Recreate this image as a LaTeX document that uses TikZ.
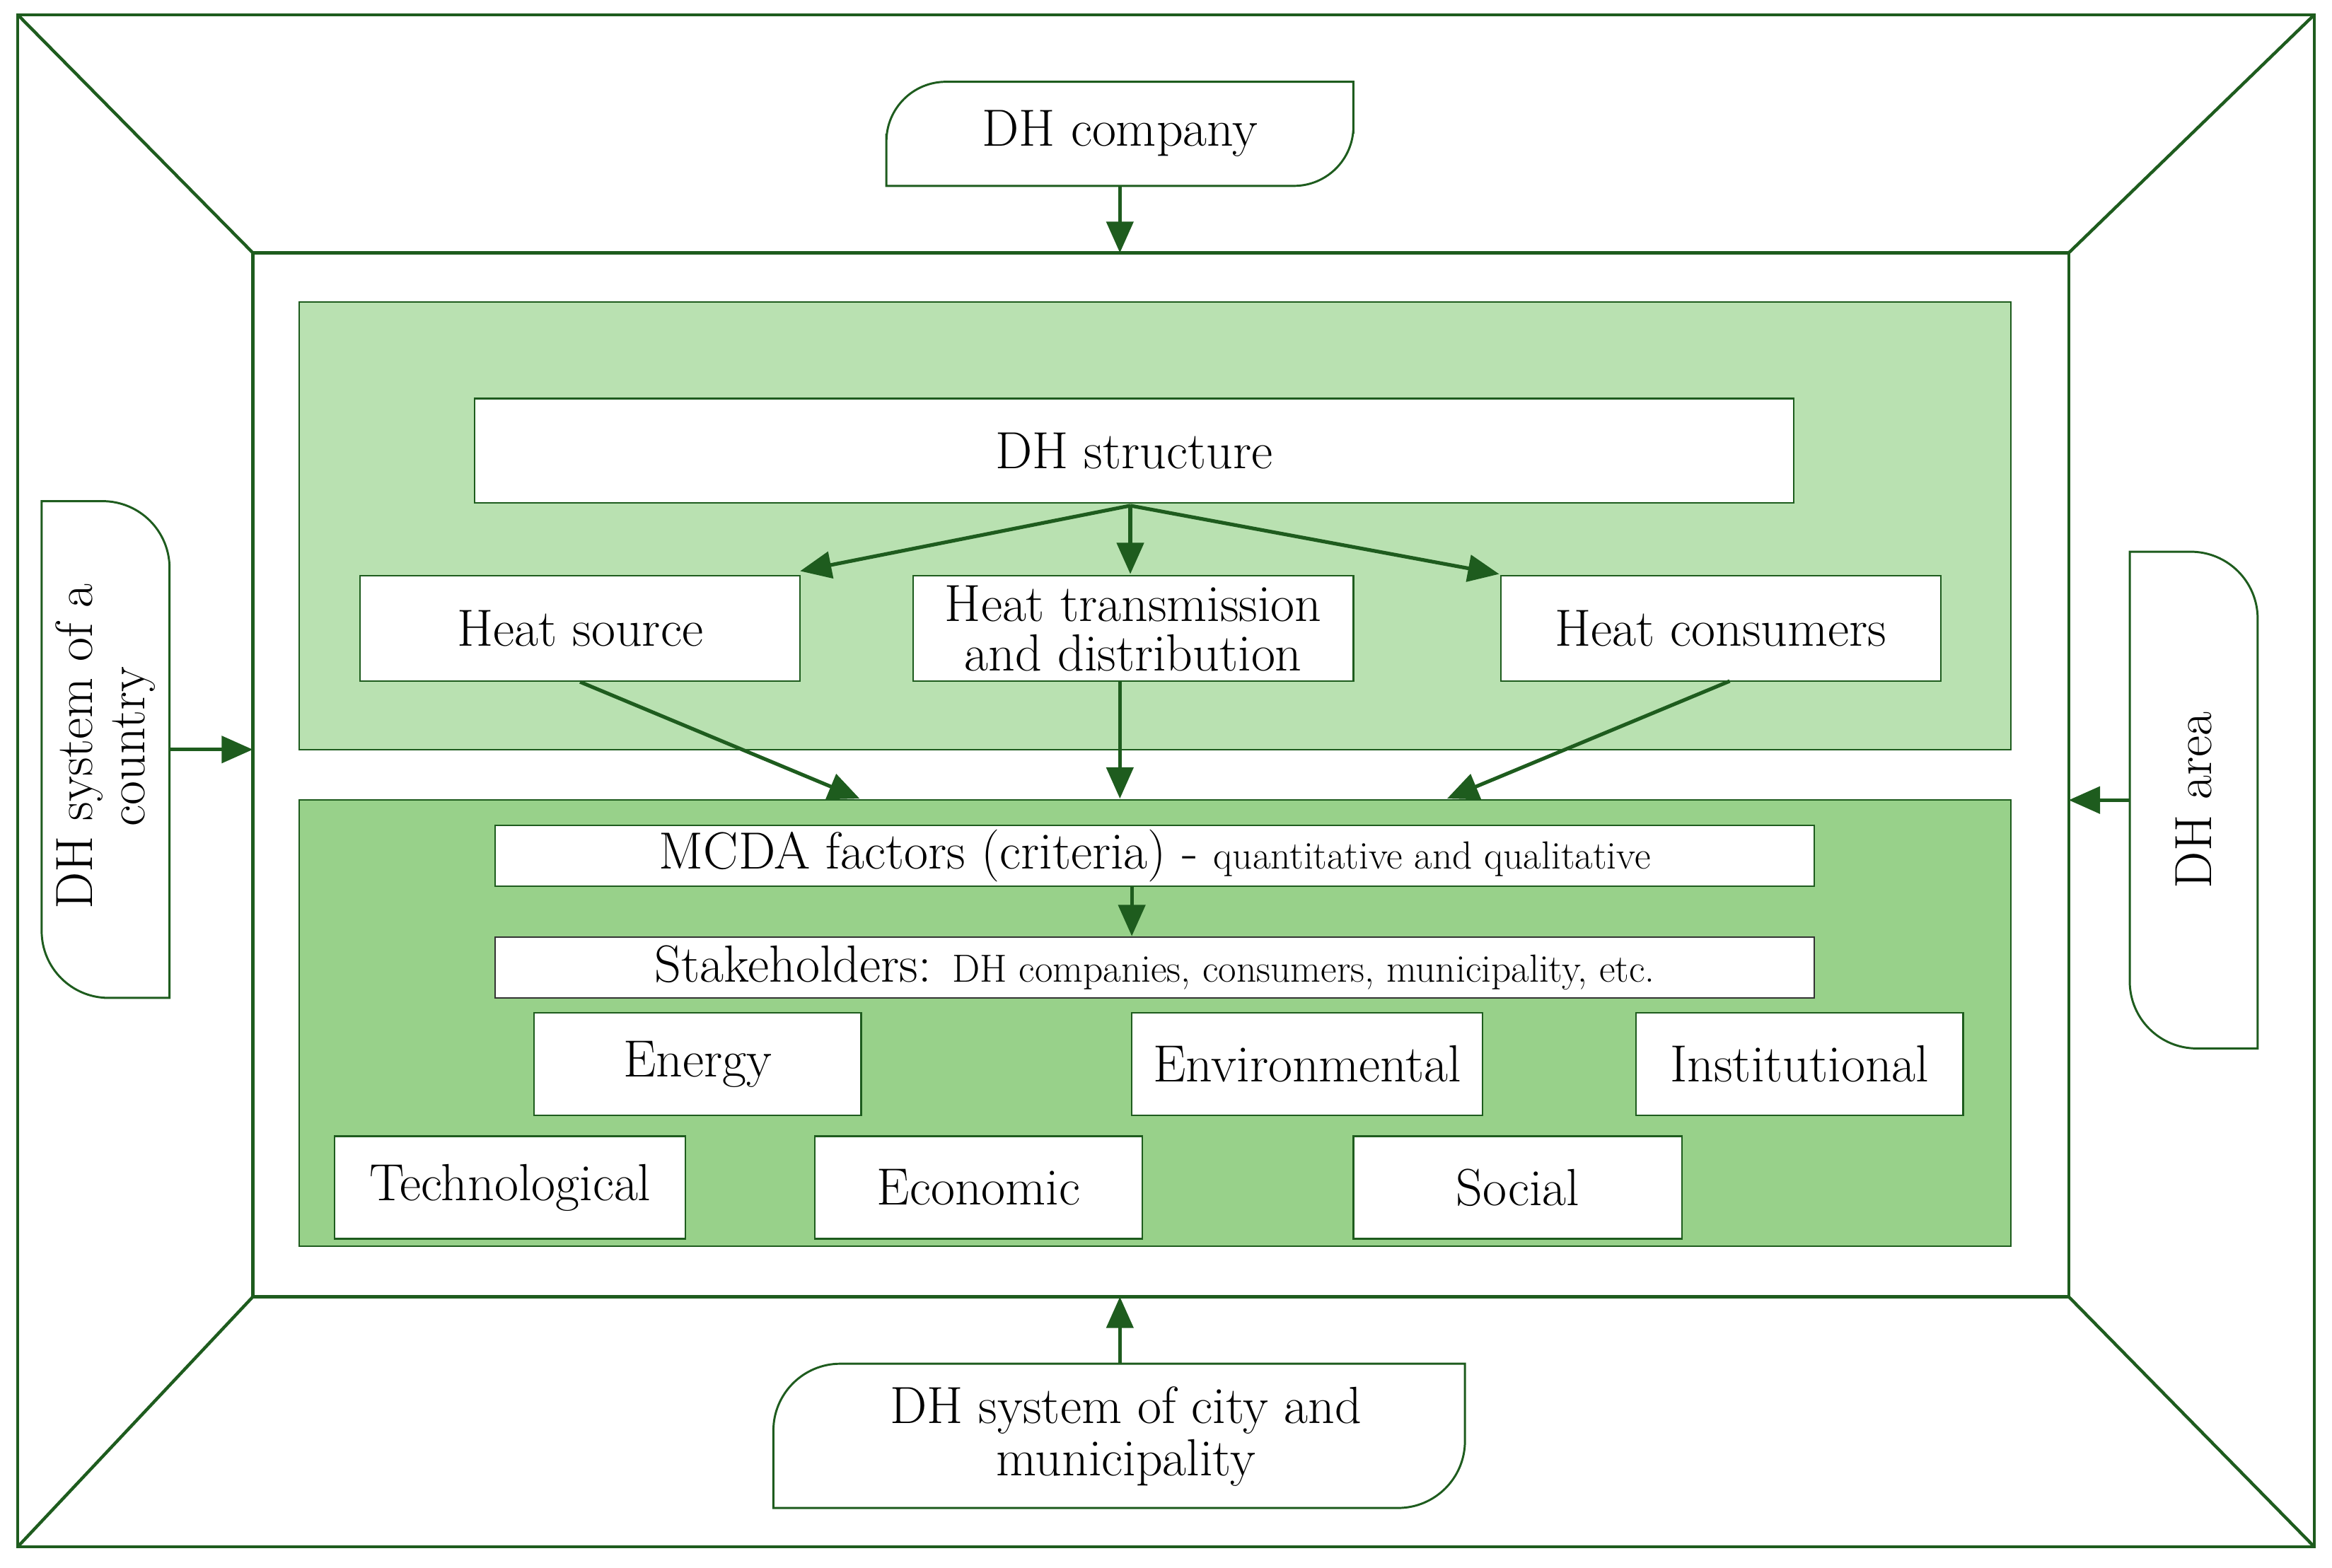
\documentclass[tikz,border=0pt]{standalone}
\usetikzlibrary{arrows.meta}
\begin{document}
\begin{tikzpicture}[x=0.02cm,y=-0.02cm,
  dg/.style={draw=dkg, line width=1.2pt},
  box/.style={draw=dkg, line width=0.6pt, fill=white, inner sep=0pt, align=center, font=\fontsize{20}{22}\selectfont},
  arr/.style={dkg, line width=1.4pt, -{Triangle[length=0.42cm,width=0.36cm]}},
  tag/.style={draw=dkg, line width=0.8pt, fill=white, rounded corners=0.9cm}]
\definecolor{dkg}{HTML}{1E5C1E}
\definecolor{lg}{HTML}{B9E1B1}
\definecolor{mg}{HTML}{98D18A}
\useasboundingbox (0,0) rectangle (1568,1054);
% frame
\draw[dg] (12,10) rectangle (1556,1040);
\draw[dg] (170,170) rectangle (1391,872);
\draw[dg] (12,10) -- (170,170) (1556,10) -- (1391,170) (12,1040) -- (170,872) (1556,1040) -- (1391,872);
% panels
\fill[lg, draw=dkg, line width=0.6pt] (201,203) rectangle (1352,504);
\fill[mg, draw=dkg, line width=0.6pt] (201,538) rectangle (1352,838);
% boxes
\node[box, minimum width=17.74cm, minimum height=1.4cm] (st) at (762.5,303) {DH structure};
\node[box, minimum width=5.92cm, minimum height=1.42cm] (hs) at (390,422.5) {Heat source};
\node[box, minimum width=5.92cm, minimum height=1.42cm] (ht) at (762,422.5) {Heat transmission\\[-3pt]and distribution};
\node[box, minimum width=5.92cm, minimum height=1.42cm] (hc) at (1157,422.5) {Heat consumers};
\node[box, minimum width=17.74cm, minimum height=0.82cm] (mc) at (776.5,575.5) {MCDA factors (criteria) - {\fontsize{15}{16}\selectfont quantitative and qualitative}};
\node[box, draw=black!80, minimum width=17.74cm, minimum height=0.82cm] (sh) at (776.5,650.5) {Stakeholders: {\fontsize{15}{16}\selectfont DH companies, consumers, municipality, etc.}};
\node[box, minimum width=4.4cm, minimum height=1.38cm] (en) at (469,715.5) {Energy};
\node[box, minimum width=4.72cm, minimum height=1.38cm] (ev) at (879,715.5) {Environmental};
\node[box, minimum width=4.4cm, minimum height=1.38cm] (in) at (1210,715.5) {Institutional};
\node[box, minimum width=4.72cm, minimum height=1.38cm] (te) at (343,798.5) {Technological};
\node[box, minimum width=4.4cm, minimum height=1.38cm] (ec) at (658,798.5) {Economic};
\node[box, minimum width=4.42cm, minimum height=1.38cm] (so) at (1020.5,798.5) {Social};
% tags
\draw[dkg, line width=0.8pt, fill=white] (596,125) -- (596,90) [rounded corners=0.8cm] -- (596,55) [sharp corners] -- (910,55) -- (910,90) [rounded corners=0.8cm] -- (910,125) [sharp corners] -- cycle;
\node[font=\fontsize{20}{22}\selectfont] (dc) at (753,90) {DH company};
\coordinate (dcb) at (753,125);
\draw[dkg, line width=0.8pt, fill=white] (520,1014) -- (520,960) [rounded corners=0.9cm] -- (520,917) [sharp corners] -- (985,917) -- (985,965) [rounded corners=0.9cm] -- (985,1014) [sharp corners] -- cycle;
\node[font=\fontsize{20}{22}\selectfont, align=center] (dm) at (757,966) {DH system of city and\\[-2pt]municipality};
\coordinate (dmt) at (753,917);
\draw[dkg, line width=0.8pt, fill=white] (28,500) -- (28,337) -- (70,337) [rounded corners=0.9cm] -- (114,337) [sharp corners] -- (114,671) -- (70,671) [rounded corners=0.9cm] -- (28,671) [sharp corners] -- cycle;
\node[font=\fontsize{20}{22}\selectfont, align=center, rotate=90] (dy) at (71,502) {DH system of a\\[-2pt]country};
\coordinate (dyr) at (114,504);
\draw[dkg, line width=0.8pt, fill=white] (1432,520) -- (1432,371) -- (1475,371) [rounded corners=0.9cm] -- (1518,371) [sharp corners] -- (1518,705) -- (1475,705) [rounded corners=0.9cm] -- (1432,705) [sharp corners] -- cycle;
\node[font=\fontsize{20}{22}\selectfont, rotate=90] (da) at (1475,538) {DH area};
\coordinate (dal) at (1432,538);
% arrows
\draw[arr] (dcb) -- (753,170);
\draw[arr] (dmt) -- (753,872);
\draw[arr] (dyr) -- (170,504);
\draw[arr] (dal) -- (1391,538);
\coordinate (sb) at (760,340);
\draw[arr] (sb) -- (538,384);
\draw[arr] (sb) -- (760,386);
\draw[arr] (sb) -- (1008,386);
\draw[arr] (hs.south) -- (578,537);
\draw[arr] (753,458) -- (753,537);
\draw[arr] (1163,458) -- (973,537);
\draw[arr] (761,596) -- (sh.north -| 761,0);
\end{tikzpicture}
\end{document}
